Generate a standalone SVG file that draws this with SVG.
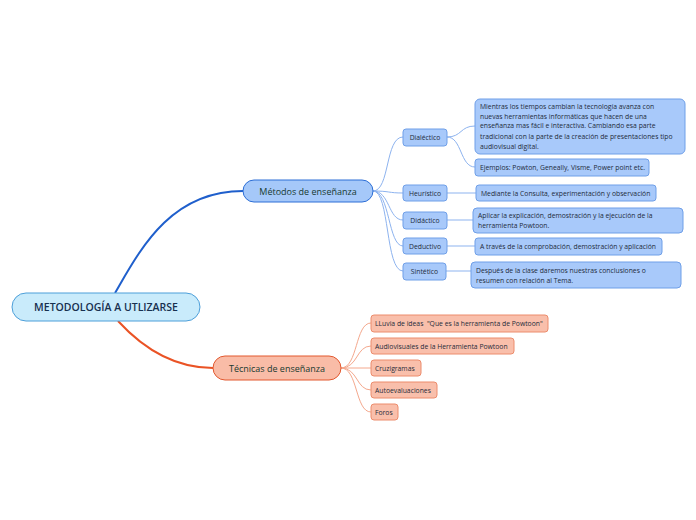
<svg xmlns="http://www.w3.org/2000/svg" width="696" height="520" viewBox="0 0 696 520">
<style>
text{font-family:"Open Sans","Noto Sans",sans-serif;fill:#1e2b3a}
.root rect{fill:#c9ebfb;stroke:#4d9fd9;stroke-width:1}
.m rect{fill:#a5c8f9;stroke:#2c6ed6;stroke-width:1}
.t rect{fill:#f9bca7;stroke:#e2582f;stroke-width:1}
.b rect{fill:#a8c9fa;stroke:#6f9fe8;stroke-width:1}
.o rect{fill:#f9bfab;stroke:#ec8c6c;stroke-width:1}
.s{font-size:6.8px}
.bl{fill:none;stroke:#8db3ef;stroke-width:1}
.ol{fill:none;stroke:#f4a88d;stroke-width:1}
</style>
<rect width="696" height="520" fill="#ffffff"/>
<g id="connectors">
<path d="M115,293 C140,250 170,191 243,191" fill="none" stroke="#1f5fcc" stroke-width="2"/>
<path d="M118,321 C140,345 170,368 213,368" fill="none" stroke="#ea5325" stroke-width="2"/>
<path class="bl" d="M373,191 C390,191 385,137 403,137"/>
<path class="bl" d="M373,191 C390,191 388,193 403,193"/>
<path class="bl" d="M373,191 C390,191 388,220 403,220"/>
<path class="bl" d="M373,191 C390,191 388,246 403,246"/>
<path class="bl" d="M373,191 C390,191 385,271 403,271"/>
<path class="bl" d="M447,137 C462,137 460,126 475,126"/>
<path class="bl" d="M447,137 C462,137 460,167 475,167"/>
<path class="bl" d="M447,193 L476,193"/>
<path class="bl" d="M447,220 L473,220"/>
<path class="bl" d="M447,246 L475,246"/>
<path class="bl" d="M446,271 L471,271"/>
<path class="ol" d="M341,368 C358,368 355,323 371,323"/>
<path class="ol" d="M341,368 C358,368 356,346 371,346"/>
<path class="ol" d="M341,368 L371,368"/>
<path class="ol" d="M341,368 C358,368 356,390 371,390"/>
<path class="ol" d="M341,368 C358,368 355,412 371,412"/>
</g>
<g id="root" class="root"><rect x="12" y="293" width="188" height="28" rx="14"/><text x="106" y="311" font-size="10.5" font-weight="600" text-anchor="middle" style="fill:#17304f">METODOLOGÍA A UTLIZARSE</text></g>
<g id="metodos" class="m"><rect x="243" y="180" width="130" height="22" rx="11"/><text x="308" y="194.5" font-size="9" font-weight="500" text-anchor="middle" style="fill:#173a30">Métodos de enseñanza</text></g>
<g id="tecnicas" class="t"><rect x="213" y="356" width="128" height="24" rx="12"/><text x="277" y="371.5" font-size="9" font-weight="500" text-anchor="middle" style="fill:#173a30">Técnicas de enseñanza</text></g>
<g id="dialectico" class="b"><rect x="403" y="129" width="44" height="17" rx="3"/><text class="s" x="425" y="140" text-anchor="middle">Dialéctico</text></g>
<g id="heuristico" class="b"><rect x="403" y="185" width="44" height="16" rx="3"/><text class="s" x="425" y="195.5" text-anchor="middle">Heurístico</text></g>
<g id="didactico" class="b"><rect x="403" y="212" width="44" height="17" rx="3"/><text class="s" x="425" y="223" text-anchor="middle">Didáctico</text></g>
<g id="deductivo" class="b"><rect x="403" y="238" width="44" height="16" rx="3"/><text class="s" x="425" y="248.5" text-anchor="middle">Deductivo</text></g>
<g id="sintetico" class="b"><rect x="403" y="263" width="43" height="17" rx="3"/><text class="s" x="424.5" y="274" text-anchor="middle">Sintético</text></g>
<g id="dial1" class="b"><rect x="475" y="99" width="210" height="55" rx="5"/><text class="s" x="480"><tspan x="480" y="108.5">Mientras los tiempos cambian la tecnología avanza con</tspan><tspan x="480" y="118.5">nuevas herramientas informáticas que hacen de una</tspan><tspan x="480" y="128">enseñanza mas fácil e interactiva. Cambiando esa parte</tspan><tspan x="480" y="138.5">tradicional con la parte de la creación de presentaciones tipo</tspan><tspan x="480" y="148.5">audiovisual digital.</tspan></text></g>
<g id="dial2" class="b"><rect x="475" y="159" width="174" height="17" rx="3"/><text class="s" x="480" y="170">Ejemplos: Powton, Geneally, Visme, Power point etc.</text></g>
<g id="heur1" class="b"><rect x="476" y="185" width="180" height="16" rx="3"/><text class="s" x="481" y="195.5">Mediante la Consulta, experimentación y observación</text></g>
<g id="did1" class="b"><rect x="473" y="208" width="210" height="25" rx="4"/><text class="s"><tspan x="478" y="217.5">Aplicar la explicación, demostración y la ejecución de la</tspan><tspan x="478" y="227.5">herramienta Powtoon.</tspan></text></g>
<g id="ded1" class="b"><rect x="475" y="238" width="187" height="17" rx="3"/><text class="s" x="480" y="249">A través de la comprobación, demostración y aplicación</text></g>
<g id="sin1" class="b"><rect x="471" y="262" width="210" height="26" rx="4"/><text class="s"><tspan x="476" y="272.5">Después de la clase daremos nuestras conclusiones o</tspan><tspan x="476" y="282.5">resumen con relación al Tema.</tspan></text></g>
<g id="lluvia" class="o"><rect x="371" y="315" width="177" height="17" rx="3"/><text class="s" x="375" y="326" xml:space="preserve">LLuvia de ideas  "Que es la herramienta de Powtoon"</text></g>
<g id="audio" class="o"><rect x="371" y="338" width="143" height="16" rx="3"/><text class="s" x="375" y="348.5">Audiovisuales de la Herramienta Powtoon</text></g>
<g id="cruzi" class="o"><rect x="371" y="360" width="50" height="16" rx="3"/><text class="s" x="375" y="370.5">Cruzigramas</text></g>
<g id="auto" class="o"><rect x="371" y="382" width="66" height="16" rx="3"/><text class="s" x="375" y="392.5">Autoevaluaciones</text></g>
<g id="foros" class="o"><rect x="371" y="404" width="27" height="16" rx="3"/><text class="s" x="375" y="414.5">Foros</text></g>
</svg>
